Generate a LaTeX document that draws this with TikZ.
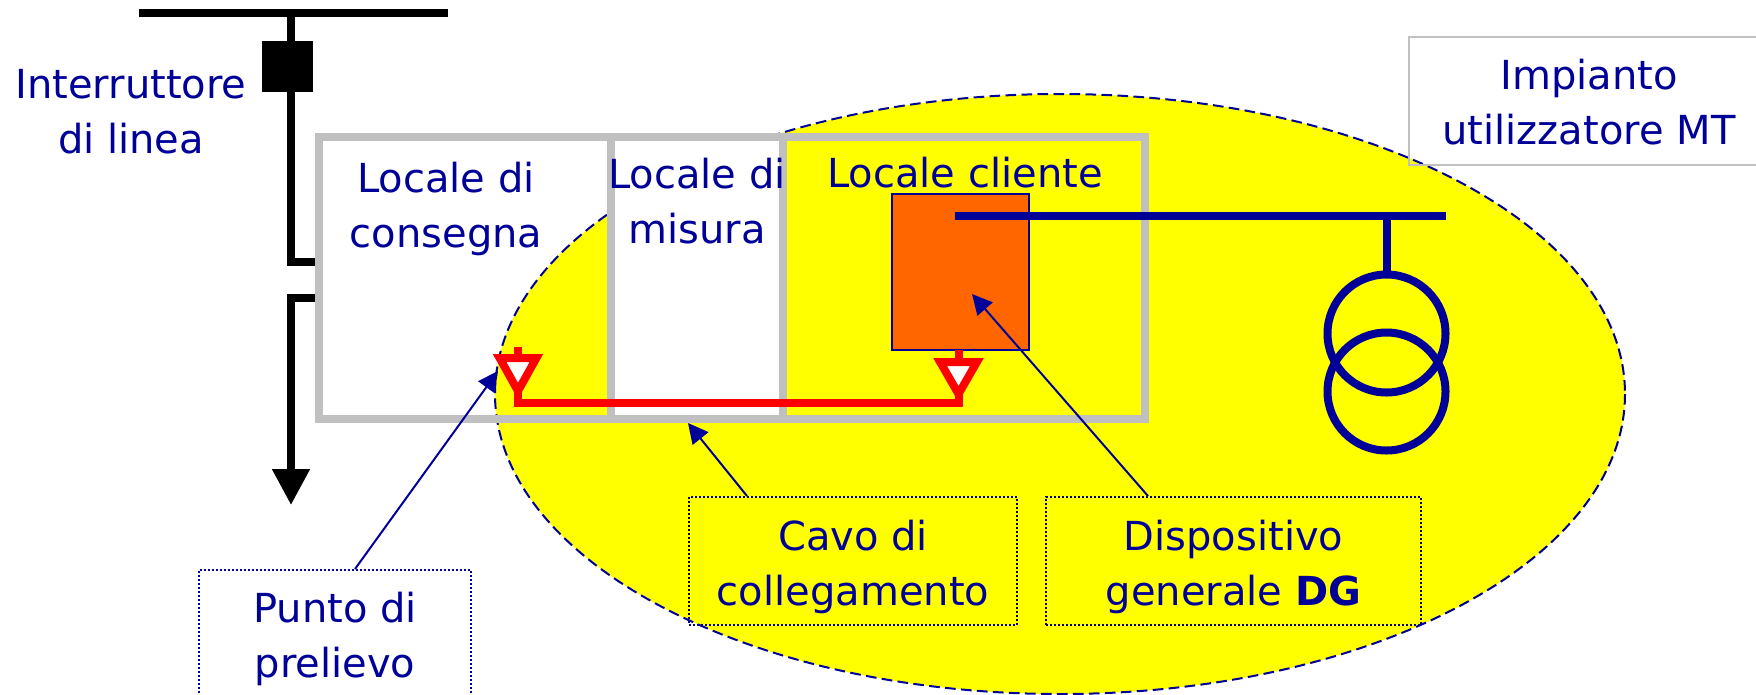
\documentclass[tikz,border=0pt]{standalone}
\usepackage{fontspec}
\setmainfont{DejaVu Sans}
\usetikzlibrary{arrows.meta}

\definecolor{testo}{RGB}{0,0,153}
\definecolor{arancio}{RGB}{255,102,0}
\definecolor{muro}{RGB}{192,192,192}
\definecolor{giallo}{RGB}{255,255,0}
\definecolor{rossoCavo}{RGB}{255,0,0}

\tikzset{every picture/.style={line width=0.75pt}}
\tikzset{
  scritta/.style={text=testo,align=center,inner sep=0pt,font=\fontsize{30}{41.25}\selectfont},
  riquadro/.style={scritta,draw=testo,line width=1.5pt,dash pattern=on 1.5pt off 1.5pt,anchor=north west},
  richiamo/.style={draw=testo,line width=1.5pt,-{Triangle[length=15pt,width=15pt]},fill=testo},
  parete/.style={draw=muro,line width=6pt,miter limit=10},
  nero/.style={draw=black,line width=6pt},
  blu/.style={draw=testo,line width=6pt},
  rosso/.style={draw=rossoCavo,line width=6pt,miter limit=10}
}

\begin{document}
\begin{tikzpicture}[x=0.75pt,y=0.75pt,yscale=-1,xscale=1]
\useasboundingbox (0,0) rectangle (1756,694);

% Ellipse
\draw [draw=testo,fill=giallo,line width=1.5pt,dash pattern=on 8pt off 4pt] (1060,394) circle [x radius=565, y radius=300];

% Rooms
\fill [white] (611,137) rectangle (783,419);
\draw [parete] (319,137) rectangle (1145,419);
\draw [parete] (611,137) -- (611,419);
\draw [parete] (783,137) -- (783,419);

% Room labels
\node (consegna) [scritta] at (446,209) {Locale di\\consegna};
\node (misura) [scritta] at (697,201) {Locale di\\misura};
\node (cliente) [scritta,anchor=base] at (965,187) {Locale cliente};

% Line from the top bar
\coordinate (barL) at (139,12.5);
\coordinate (barR) at (448,12.5);
\coordinate (spalla) at (291,262);
\coordinate (rientro) at (291,298);
\coordinate (punta) at (291,505);
\draw [nero] (barL) -- (barR);
\draw [nero] (spalla |- barL) -- (spalla) -- (315,262);
\draw [nero,-{Triangle[length=27pt,width=27pt]}] (315,298) -- (rientro) -- (punta);
\node (interruttore) [fill=black,inner sep=0pt,minimum size=38.25pt] at (287.5,66.5) {};
\node (linea) [scritta] at (131,112) {Interruttore\\di linea};

% DG
\node (dg) [draw=testo,fill=arancio,line width=1.5pt,inner sep=0pt,minimum width=102.75pt,minimum height=117pt] at (960.5,272) {};
\coordinate (sbarraL) at (955,216);
\coordinate (sbarraR) at (1446,216);
\draw [blu] (sbarraL) -- (sbarraR);

% Transformer
\node (trafoA) [circle,draw=testo,line width=6pt,inner sep=0pt,minimum size=88.5pt] at (1386.5,333.5) {};
\node (trafoB) [circle,draw=testo,line width=6pt,inner sep=0pt,minimum size=88.5pt] at (1386.5,391.5) {};
\draw [blu] (trafoA.north |- sbarraL) -- (trafoA.north);

% Cable
\coordinate (prelievo) at (518,391);
\coordinate (attacco) at (958.5,394);
\coordinate (cavo) at (518,403);
\draw [rosso,fill=white] (499.6,358) -- (536.4,358) -- (prelievo) -- cycle;
\draw [rosso,fill=white] (940.1,362) -- (976.9,362) -- (attacco) -- cycle;
\draw [rosso] (518,347) -- (518,358);
\draw [rosso] (958.5,350) -- (958.5,362);
\draw [rosso] (prelievo) -- (cavo) -- (cavo -| attacco) -- (attacco);

% Boxes
\node (punto) [riquadro,minimum width=204pt,minimum height=104pt] at (198,569) {Punto di\\prelievo};
\node (collegamento) [riquadro,minimum width=246pt,minimum height=96pt] at (688,496) {\rule{0pt}{31pt}Cavo di\\collegamento};
\node (generale) [riquadro,minimum width=281.25pt,minimum height=96pt] at (1045,496) {\rule{0pt}{31pt}Dispositivo\\generale \textbf{DG}};
\node (impianto) [scritta,draw=muro,line width=1.5pt,anchor=north west,minimum width=270pt,minimum height=96pt] at (1408,36) {\rule{0pt}{24.5pt}Impianto\\utilizzatore MT};

% Connections
\coordinate (puntoPrel) at (498,371);
\coordinate (puntoCavo) at (688,423);
\coordinate (puntoDg) at (972,294);
\draw [richiamo] ([xshift=15pt]punto.north) -- (puntoPrel);
\draw [richiamo] ([xshift=44.25pt]collegamento.north west) -- (puntoCavo);
\draw [richiamo] ([xshift=77.25pt]generale.north west) -- (puntoDg);

\end{tikzpicture}
\end{document}
